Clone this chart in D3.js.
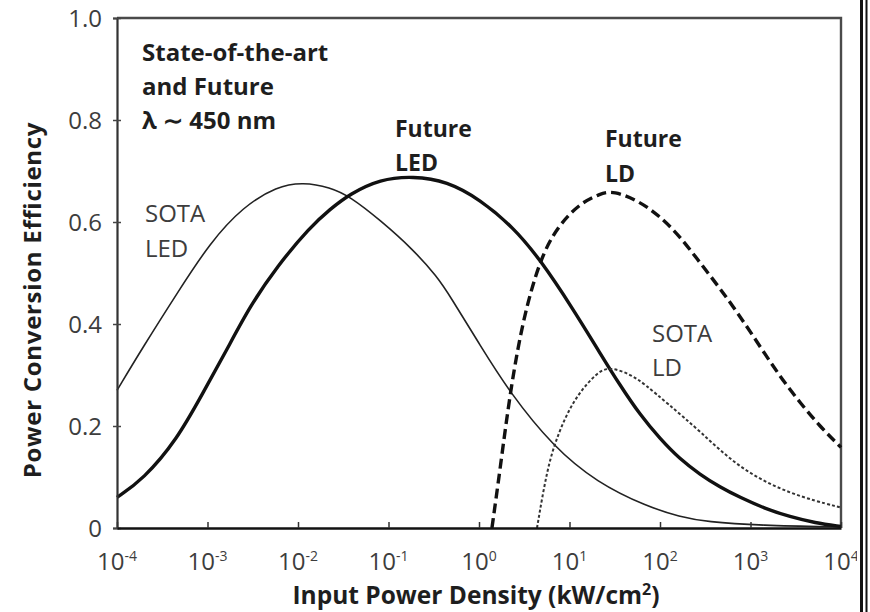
<!DOCTYPE html>
<html>
<head>
<meta charset="utf-8">
<script src="https://cdn.jsdelivr.net/npm/d3@7"></script>
<style>
  html, body { margin: 0; padding: 0; background: #fff; }
  svg { display: block; font-family: "Open Sans", Lato, sans-serif; }
</style>
</head>
<body>
<svg id="chart" width="870" height="612"></svg>
<script>
// Input power density (kW/cm²) and power conversion efficiency, blue emitters (~450 nm)
const sotaLedX = [1e-4, 1.94e-4, 4.6e-4, 1.07e-3, 2.47e-3, 5.86e-3, 1.14e-2, 2.26e-2, 3.75e-2, 8.05e-2, 0.187, 0.344, 0.478, 1.03, 2.2, 6.57, 20.1, 71.8, 166, 330, 1274, 1e4];
const sotaLedY = [0.27, 0.355, 0.46, 0.56, 0.63, 0.67, 0.678, 0.668, 0.65, 0.604, 0.546, 0.493, 0.455, 0.358, 0.265, 0.16, 0.089, 0.042, 0.022, 0.012, 0.005, 0.002];

const futureLedX = [1e-4, 1.94e-4, 4.6e-4, 8.92e-4, 1.64e-3, 2.95e-3, 5.86e-3, 1.36e-2, 2.26e-2, 3.75e-2, 8.05e-2, 0.187, 0.443, 1.03, 2.38, 4.72, 10.9, 21.7, 36.1, 60.1, 100, 166, 277, 460, 766, 1445, 2733, 5164, 1e4];
const futureLedY = [0.06, 0.095, 0.173, 0.265, 0.35, 0.435, 0.513, 0.59, 0.625, 0.655, 0.684, 0.69, 0.68, 0.644, 0.59, 0.527, 0.43, 0.343, 0.28, 0.222, 0.175, 0.135, 0.105, 0.08, 0.06, 0.038, 0.022, 0.01, 0.003];

const futureLdX = [1.39, 1.71, 2.2, 3.06, 4.72, 7.28, 13.06, 21.7, 30.3, 60.1, 100, 166, 277, 460, 766, 1274, 2118, 3524, 5861, 1e4];
const futureLdY = [0, 0.115, 0.265, 0.41, 0.527, 0.59, 0.637, 0.655, 0.662, 0.64, 0.611, 0.572, 0.52, 0.47, 0.415, 0.356, 0.297, 0.246, 0.199, 0.158];

const sotaLdX = [4.375, 5.64, 7.28, 10.93, 18.2, 26, 46.6, 68, 119.5, 277, 766, 2733, 1e4];
const sotaLdY = [0, 0.115, 0.18, 0.25, 0.297, 0.318, 0.302, 0.282, 0.245, 0.19, 0.115, 0.066, 0.04];

const xTickValues = [1e-4, 1e-3, 1e-2, 1e-1, 1e0, 1e1, 1e2, 1e3, 1e4];
const xTickExponents = ["-4", "-3", "-2", "-1", "0", "1", "2", "3", "4"];
const yTickValues = [0, 0.2, 0.4, 0.6, 0.8, 1.0];
const yTickLabels = ["0", "0.2", "0.4", "0.6", "0.8", "1.0"];

const svg = d3.select("#chart");
const plotLeft = 117, plotRight = 841, plotTop = 18, plotBottom = 528;

const x = d3.scaleLog().domain([1e-4, 1e4]).range([plotLeft, plotRight]);
const y = d3.scaleLinear().domain([0, 1]).range([plotBottom, plotTop]);

// plot frame (top and right edges)
svg.append("path")
  .attr("d", `M${plotLeft},${plotTop}H${plotRight}V${plotBottom}`)
  .attr("fill", "none").attr("stroke", "#4a4a4a").attr("stroke-width", 2.4);

// curves
const line = d3.line().x(d => x(d[0])).y(d => y(d[1])).curve(d3.curveBasis);
const zip = (xs, ys) => xs.map((v, i) => [v, ys[i]]);

const series = [
  { pts: zip(sotaLedX, sotaLedY), width: 1.6, dash: null, color: "#222" },
  { pts: zip(futureLedX, futureLedY), width: 3.4, dash: null, color: "#111" },
  { pts: zip(futureLdX, futureLdY), width: 3.4, dash: "10,5", color: "#111" },
  { pts: zip(sotaLdX, sotaLdY), width: 2, dash: "3,2.2", color: "#333" }
];
svg.append("g").selectAll("path").data(series).join("path")
  .attr("d", d => line(d.pts))
  .attr("fill", "none")
  .attr("stroke", d => d.color)
  .attr("stroke-width", d => d.width)
  .attr("stroke-dasharray", d => d.dash);

// y axis
const yAxis = svg.append("g").attr("transform", `translate(${plotLeft},0)`)
  .call(d3.axisLeft(y).tickValues(yTickValues).tickSize(4).tickFormat(""));
yAxis.select(".domain").attr("stroke", "#333").attr("stroke-width", 2.2);
yAxis.selectAll(".tick line").attr("x1", 4).attr("x2", -4).attr("stroke", "#444").attr("stroke-width", 1.5);

svg.append("g").selectAll("text").data(yTickValues).join("text")
  .attr("x", 102).attr("y", d => y(d)).attr("dy", "0.36em")
  .attr("text-anchor", "end")
  .attr("font-size", 24).attr("fill", "#3d3d3d")
  .text((d, i) => yTickLabels[i]);

// x axis
const xAxis = svg.append("g").attr("transform", `translate(0,${plotBottom})`)
  .call(d3.axisBottom(x).tickValues(xTickValues).tickSizeInner(-6).tickSizeOuter(0).tickFormat(""));
xAxis.select(".domain").attr("stroke", "#111").attr("stroke-width", 2.6);
xAxis.selectAll(".tick line").attr("stroke", "#333").attr("stroke-width", 1.5);

const xLabels = svg.append("g").selectAll("text").data(xTickValues).join("text")
  .attr("x", d => x(d)).attr("y", 570)
  .attr("text-anchor", "middle")
  .attr("font-size", 24).attr("fill", "#3d3d3d");
xLabels.append("tspan").text("10");
xLabels.append("tspan").attr("font-size", 14).attr("dy", -9)
  .text((d, i) => xTickExponents[i]);

// axis titles
svg.append("text")
  .attr("transform", "translate(41,300) rotate(-90)")
  .attr("text-anchor", "middle")
  .attr("font-size", 24).attr("letter-spacing", 0.7)
  .attr("font-weight", 700).attr("fill", "#1e1e1e")
  .text("Power Conversion Efficiency");

const xt = svg.append("text")
  .attr("x", 476).attr("y", 604)
  .attr("text-anchor", "middle")
  .attr("font-size", 24.5).attr("font-weight", 700).attr("fill", "#1e1e1e");
xt.append("tspan").text("Input Power Density (kW/cm");
xt.append("tspan").attr("font-size", 16).attr("dy", -9).text("2");
xt.append("tspan").attr("dy", 9).text(")");

// annotations
const notes = [
  { lines: ["State-of-the-art", "and Future", "λ ∼ 450 nm"], x: 142, y: 61, step: 34, bold: true, size: 24 },
  { lines: ["Future", "LED"], x: 395, y: 137, step: 34, bold: true, size: 23 },
  { lines: ["Future", "LD"], x: 605, y: 147, step: 35, bold: true, size: 23 },
  { lines: ["SOTA", "LED"], x: 145, y: 222, step: 35, bold: false, size: 24 },
  { lines: ["SOTA", "LD"], x: 652, y: 342, step: 34, bold: false, size: 24 }
];
notes.forEach(n => {
  const t = svg.append("text")
    .attr("font-size", n.size)
    .attr("font-weight", n.bold ? 700 : 400)
    .attr("fill", n.bold ? "#1e1e1e" : "#3d3d3d");
  n.lines.forEach((s, i) => {
    t.append("tspan").attr("x", n.x).attr("y", n.y + i * n.step).text(s);
  });
});

// page edge rule on the right
svg.append("rect").attr("x", 857).attr("y", 0).attr("width", 13).attr("height", 612).attr("fill", "#fff");
svg.append("line").attr("x1", 861.5).attr("x2", 861.5).attr("y1", 0).attr("y2", 612)
  .attr("stroke", "#111").attr("stroke-width", 3);
svg.append("line").attr("x1", 866.5).attr("x2", 866.5).attr("y1", 0).attr("y2", 612)
  .attr("stroke", "#111").attr("stroke-width", 2);
</script>
</body>
</html>
